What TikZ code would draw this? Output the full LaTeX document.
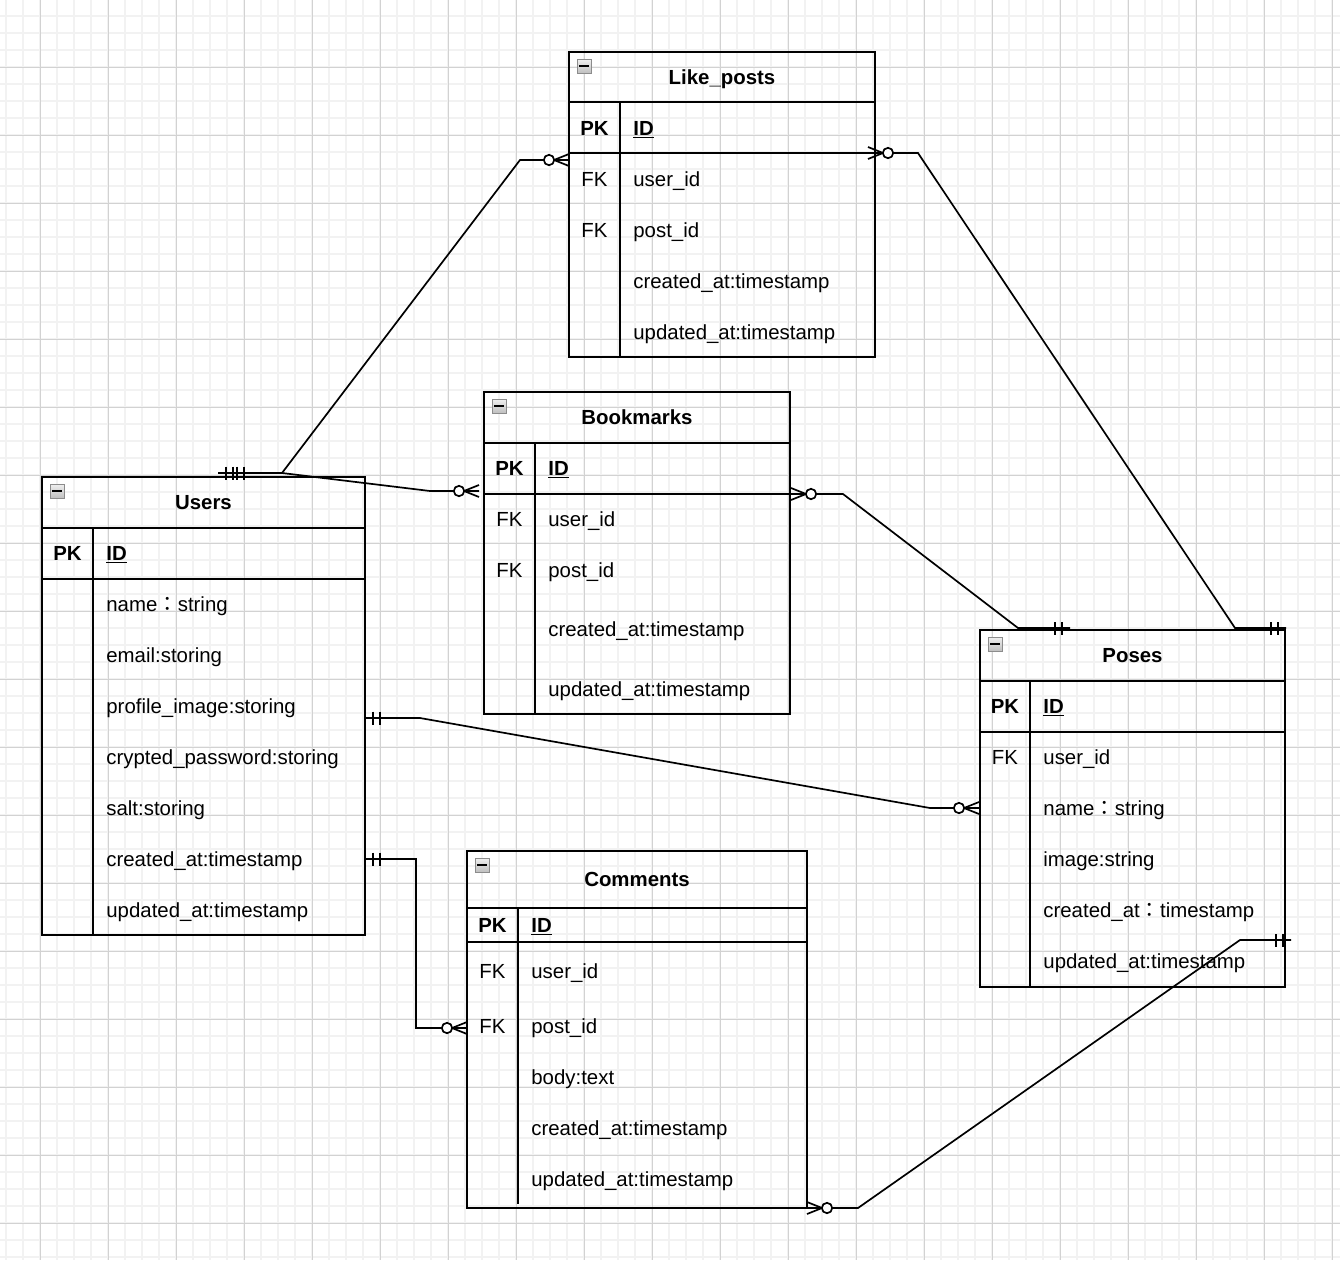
\documentclass[tikz,border=0pt]{standalone}
\usepackage{fontspec}
\setmainfont{Liberation Sans}
\newfontfamily\cjk{Noto Sans CJK JP}
\usetikzlibrary{fit,calc}
\definecolor{gridmajor}{HTML}{D2D2D2}
\definecolor{gridminor}{HTML}{F2F2F2}
\definecolor{minusborder}{HTML}{8C8C8C}
\tikzset{
  tablebox/.style={draw=black, line width=0.9pt, inner sep=0pt},
  sepline/.style={draw=black, line width=0.9pt},
  conn/.style={draw=black, line width=0.85pt, line join=miter},
  ttl/.style={font=\fontsize{10.2}{12}\selectfont\bfseries, inner sep=0pt, anchor=base},
  keytxt/.style={font=\fontsize{10.2}{12}\selectfont, inner sep=0pt, anchor=base},
  pktxt/.style={font=\fontsize{10.2}{12}\selectfont\bfseries, inner sep=0pt, anchor=base},
  field/.style={font=\fontsize{10.2}{12}\selectfont, inner sep=0pt, anchor=base west},
  idfield/.style={font=\fontsize{10.2}{12}\selectfont\bfseries, inner sep=0pt, anchor=base west},
  minusbox/.style={draw=minusborder, line width=0.5pt, minimum size=7pt, inner sep=0pt,
    top color=gray!12, bottom color=gray!50,
    path picture={\draw[black, line width=1.1pt]
      ([xshift=-2.4pt]path picture bounding box.center) --
      ([xshift=2.4pt]path picture bounding box.center);}}
}
% #1 name, #2 x1, #3 y1, #4 x2, #5 y2, #6 header bottom, #7 pk bottom, #8 divider x, #9 divider end y
\newcommand{\ERframe}[9]{%
  \node[tablebox, fit={(#2,#3)(#4,#5)}] (#1) {};
  \draw[sepline] (#2,#6) -- (#4,#6);
  \draw[sepline] (#2,#7) -- (#4,#7);
  \draw[sepline] (#8,#6) -- (#8,#9);
  \node[minusbox] (#1-min) at (#2+15,#3+14) {};
}
\newcommand{\zeroMany}[2]{%
  \begin{scope}[shift={(#1)}, rotate=#2]
    \draw[conn] (0,-6) -- (15,0) -- (0,6);
    \draw[conn, fill=white] (20,0) circle[radius=2.6pt];
  \end{scope}}
\newcommand{\mandOne}[2]{%
  \begin{scope}[shift={(#1)}, rotate=#2]
    \draw[conn] (8,-6.5) -- (8,6.5) (15,-6.5) -- (15,6.5);
  \end{scope}}
\begin{document}
\begin{tikzpicture}[x=0.5pt,y=-0.5pt]
\useasboundingbox (0,0) rectangle (1340,1260);
\fill[white] (0,0) rectangle (1340,1260);
% grid
\foreach \x in {6,23,...,1340} \draw[gridminor, line width=1pt] (\x,0) -- (\x,1260);
\foreach \y in {16,33,...,1260} \draw[gridminor, line width=1pt] (0,\y) -- (1340,\y);
\foreach \x in {40,108,...,1340} \draw[gridmajor, line width=0.5pt] (\x,0) -- (\x,1260);
\foreach \y in {67,135,...,1260} \draw[gridmajor, line width=0.5pt] (0,\y) -- (1340,\y);

% ---------- Like_posts ----------
\ERframe{lp}{569}{52}{875}{357}{102}{153}{620}{357}
\node[ttl] (lp-t) at (722,84) {Like\_posts};
\node[pktxt] (lp-pk) at (594.5,135) {PK};
\node[idfield] (lp-id) at (633,135) {\underline{ID}};
\node[keytxt] (lp-fk1) at (594.5,186) {FK};
\node[field] (lp-f1) at (633,186) {user\_id};
\node[keytxt] (lp-fk2) at (594.5,237) {FK};
\node[field] (lp-f2) at (633,237) {post\_id};
\node[field] (lp-f3) at (633,288) {created\_at:timestamp};
\node[field] (lp-f4) at (633,339) {updated\_at:timestamp};

% ---------- Bookmarks ----------
\ERframe{bm}{484}{392}{790}{714}{443}{494}{535}{714}
\node[ttl] (bm-t) at (637,424) {Bookmarks};
\node[pktxt] (bm-pk) at (509.5,475) {PK};
\node[idfield] (bm-id) at (548,475) {\underline{ID}};
\node[keytxt] (bm-fk1) at (509.5,526) {FK};
\node[field] (bm-f1) at (548,526) {user\_id};
\node[keytxt] (bm-fk2) at (509.5,577) {FK};
\node[field] (bm-f2) at (548,577) {post\_id};
\node[field] (bm-f3) at (548,636) {created\_at:timestamp};
\node[field] (bm-f4) at (548,696) {updated\_at:timestamp};

% ---------- Users ----------
\ERframe{us}{42}{477}{365}{935}{528}{579}{93}{935}
\node[ttl] (us-t) at (203.5,509) {Users};
\node[pktxt] (us-pk) at (67.5,560) {PK};
\node[idfield] (us-id) at (106,560) {\underline{ID}};
\node[field] (us-f1) at (106,611) {name{\cjk ：}string};
\node[field] (us-f2) at (106,662) {email:storing};
\node[field] (us-f3) at (106,713) {profile\_image:storing};
\node[field] (us-f4) at (106,764) {crypted\_password:storing};
\node[field] (us-f5) at (106,815) {salt:storing};
\node[field] (us-f6) at (106,866) {created\_at:timestamp};
\node[field] (us-f7) at (106,917) {updated\_at:timestamp};

% ---------- Poses ----------
\ERframe{ps}{980}{630}{1285}{987}{681}{732}{1030}{987}
\node[ttl] (ps-t) at (1132.5,662) {Poses};
\node[pktxt] (ps-pk) at (1005,713) {PK};
\node[idfield] (ps-id) at (1043,713) {\underline{ID}};
\node[keytxt] (ps-fk1) at (1005,764) {FK};
\node[field] (ps-f1) at (1043,764) {user\_id};
\node[field] (ps-f2) at (1043,815) {name{\cjk ：}string};
\node[field] (ps-f3) at (1043,866) {image:string};
\node[field] (ps-f4) at (1043,917) {created\_at{\cjk ：}timestamp};
\node[field] (ps-f5) at (1043,968) {updated\_at:timestamp};

% ---------- Comments ----------
\ERframe{cm}{467}{851}{807}{1208}{908}{942}{518}{1204}
\node[ttl] (cm-t) at (637,886) {Comments};
\node[pktxt] (cm-pk) at (492.5,932) {PK};
\node[idfield] (cm-id) at (531,932) {\underline{ID}};
\node[keytxt] (cm-fk1) at (492.5,978) {FK};
\node[field] (cm-f1) at (531,978) {user\_id};
\node[keytxt] (cm-fk2) at (492.5,1033) {FK};
\node[field] (cm-f2) at (531,1033) {post\_id};
\node[field] (cm-f3) at (531,1084) {body:text};
\node[field] (cm-f4) at (531,1135) {created\_at:timestamp};
\node[field] (cm-f5) at (531,1186) {updated\_at:timestamp};

% ---------- connector end points ----------
\coordinate (ul-s) at (218,473);
\coordinate (ul-e) at (569,160);
\coordinate (ub-s) at (229,473);
\coordinate (ub-e) at (479,491);
\coordinate (bp-s) at (791,494);
\coordinate (bp-e) at (1070,628);
\coordinate (lpp-s) at (868,153);
\coordinate (lpp-e) at (1286,628);
\coordinate (up-s) at (365,718);
\coordinate (up-e) at (979,808);
\coordinate (uc-s) at (365,859);
\coordinate (uc-e) at (467,1028);
\coordinate (cp-s) at (807,1208);
\coordinate (cp-e) at (1291,940);

% ---------- connectors ----------
\draw[conn] (ul-s) -- (282,473) -- (520,160) -- (ul-e);
\draw[conn] (ub-s) -- (282,473) -- (430,491) -- (ub-e);
\draw[conn] (bp-s) -- (843,494) -- (1018,628) -- (bp-e);
\draw[conn] (lpp-s) -- (918,153) -- (1235,628) -- (lpp-e);
\draw[conn] (up-s) -- (420,718) -- (930,808) -- (up-e);
\draw[conn] (uc-s) -- (416,859) -- (416,1028) -- (uc-e);
\draw[conn] (cp-s) -- (858,1208) -- (1240,940) -- (cp-e);

% ---------- markers ----------
\mandOne{ul-s}{0}
\mandOne{ub-s}{0}
\zeroMany{ul-e}{180}
\zeroMany{ub-e}{180}
\zeroMany{bp-s}{0}
\mandOne{bp-e}{180}
\zeroMany{lpp-s}{0}
\mandOne{lpp-e}{180}
\mandOne{up-s}{0}
\zeroMany{up-e}{180}
\mandOne{uc-s}{0}
\zeroMany{uc-e}{180}
\zeroMany{cp-s}{0}
\mandOne{cp-e}{180}
\end{tikzpicture}
\end{document}
